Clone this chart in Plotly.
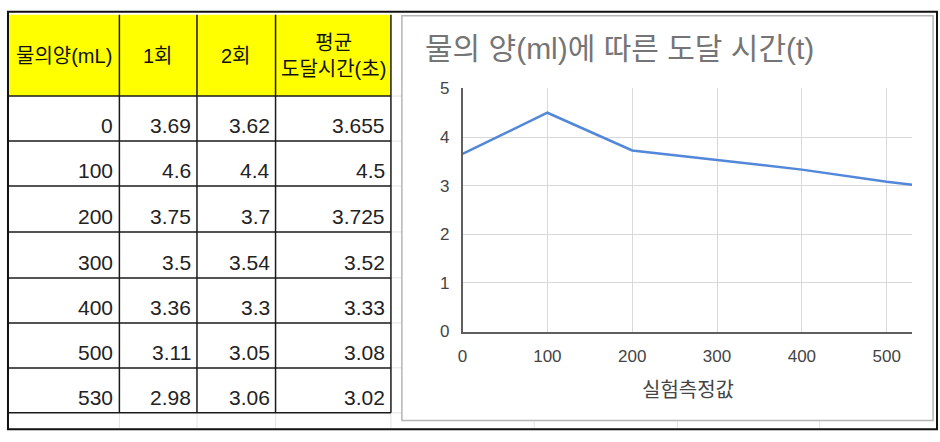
import plotly.graph_objects as go

W, H = 940, 442

# table / chart data
amounts = [0, 100, 200, 300, 400, 500, 530]
trial1 = [3.69, 4.6, 3.75, 3.5, 3.36, 3.11, 2.98]
trial2 = [3.62, 4.4, 3.7, 3.54, 3.3, 3.05, 3.06]
average = [3.655, 4.5, 3.725, 3.52, 3.33, 3.08, 3.02]
headers = ["물의양(mL)", "1회", "2회", "평균<br>도달시간(초)"]

chart_title = "물의 양(ml)에 따른 도달 시간(t)"
x_title = "실험측정값"
x_ticks = [0, 100, 200, 300, 400, 500]
y_ticks = [0, 1, 2, 3, 4, 5]

FONT = "Liberation Sans, Noto Sans CJK KR, sans-serif"

# spreadsheet grid, in pixels
col_x = [4, 115, 193, 272, 388]
row_y = [91, 138, 185, 233, 281, 328, 375, 422]
header_top = 6


def px(x):
    return x / W


def py(y):
    return 1 - y / H


def line(x0, y0, x1, y1, color, width):
    return dict(type="line", xref="paper", yref="paper",
                x0=px(x0), y0=py(y0), x1=px(x1), y1=py(y1),
                line=dict(color=color, width=width), layer="below")


shapes = []
annotations = []

# faint sheet gridlines outside the table
faint = "#e3e3e3"
for x in col_x[1:]:
    shapes.append(line(x, 422, x, 439, faint, 1))
for x in [532, 676, 819]:
    shapes.append(line(x, 430, x, 439, faint, 1))
for y in row_y:
    shapes.append(line(388, y, 399, y, faint, 1))

# yellow header
shapes.append(dict(type="rect", xref="paper", yref="paper",
                   x0=px(col_x[0]), x1=px(col_x[-1]), y0=py(header_top), y1=py(row_y[0]),
                   fillcolor="#ffff00", line=dict(width=0), layer="below"))

# table borders
for x in col_x[1:]:
    shapes.append(line(x, header_top, x, row_y[-1], "#1a1a1a", 1.5))
for y in row_y:
    shapes.append(line(col_x[0], y, col_x[-1], y, "#1a1a1a", 1.5))

# header text
for i, h in enumerate(headers):
    annotations.append(dict(xref="paper", yref="paper",
                            x=px((col_x[i] + col_x[i + 1]) / 2), y=py(49),
                            text=h, showarrow=False, xanchor="center", yanchor="middle",
                            font=dict(family=FONT, size=20, color="#111")))

# body cells, right aligned near the bottom of each row
columns = [amounts, trial1, trial2, average]
for c, values in enumerate(columns):
    for r, v in enumerate(values):
        annotations.append(dict(xref="paper", yref="paper",
                                x=px(col_x[c + 1] - 4), y=py(row_y[r + 1] - 16),
                                text=f"{v:g}", showarrow=False,
                                xanchor="right", yanchor="middle",
                                font=dict(family=FONT, size=21, color="#222")))

# chart frame
shapes.append(dict(type="rect", xref="paper", yref="paper",
                   x0=px(399), x1=px(933), y0=py(7), y1=py(430),
                   line=dict(color="#b5b5b5", width=1.5), fillcolor="rgba(0,0,0,0)"))

# outer screenshot frame
shapes.append(dict(type="rect", xref="paper", yref="paper",
                   x0=px(3), x1=px(937), y0=py(3), y1=py(439),
                   line=dict(color="#111", width=2), fillcolor="rgba(0,0,0,0)"))

annotations.append(dict(xref="paper", yref="paper", x=px(420), y=py(41),
                        text=chart_title, showarrow=False, xanchor="left", yanchor="middle",
                        font=dict(family=FONT, size=30, color="#757575")))
annotations.append(dict(xref="paper", yref="paper", x=px(687), y=py(398),
                        text=x_title, showarrow=False, xanchor="center", yanchor="middle",
                        font=dict(family=FONT, size=20, color="#444")))

fig = go.Figure()
fig.add_trace(go.Scatter(x=amounts, y=average, mode="lines",
                         line=dict(color="#5287d9", width=2.5),
                         hoverinfo="x+y", showlegend=False))

fig.update_layout(
    width=W, height=H, autosize=False,
    margin=dict(l=0, r=0, t=0, b=0),
    paper_bgcolor="white", plot_bgcolor="white",
    font=dict(family=FONT, color="#444"),
    shapes=shapes, annotations=annotations,
    xaxis=dict(domain=[px(460), px(912)], range=[0, 530], tickvals=x_ticks,
               showgrid=True, gridcolor="#d9d9d9", gridwidth=1,
               showline=True, linecolor="#5f5f5f", linewidth=2,
               zeroline=False, ticks="", ticklabelstandoff=8,
               tickfont=dict(size=17, color="#444"), fixedrange=True),
    yaxis=dict(domain=[py(337), py(83)], range=[0, 5], tickvals=y_ticks,
               showgrid=True, gridcolor="#d9d9d9", gridwidth=1,
               showline=True, linecolor="#5f5f5f", linewidth=1.5,
               zeroline=False, ticks="", ticklabelstandoff=8,
               tickfont=dict(size=17, color="#444"), fixedrange=True),
)

# the page body has a default margin; drop it so the figure fills the window
fig.write_html("out.html", config={"displayModeBar": False},
               post_script="document.body.style.margin='0';")
